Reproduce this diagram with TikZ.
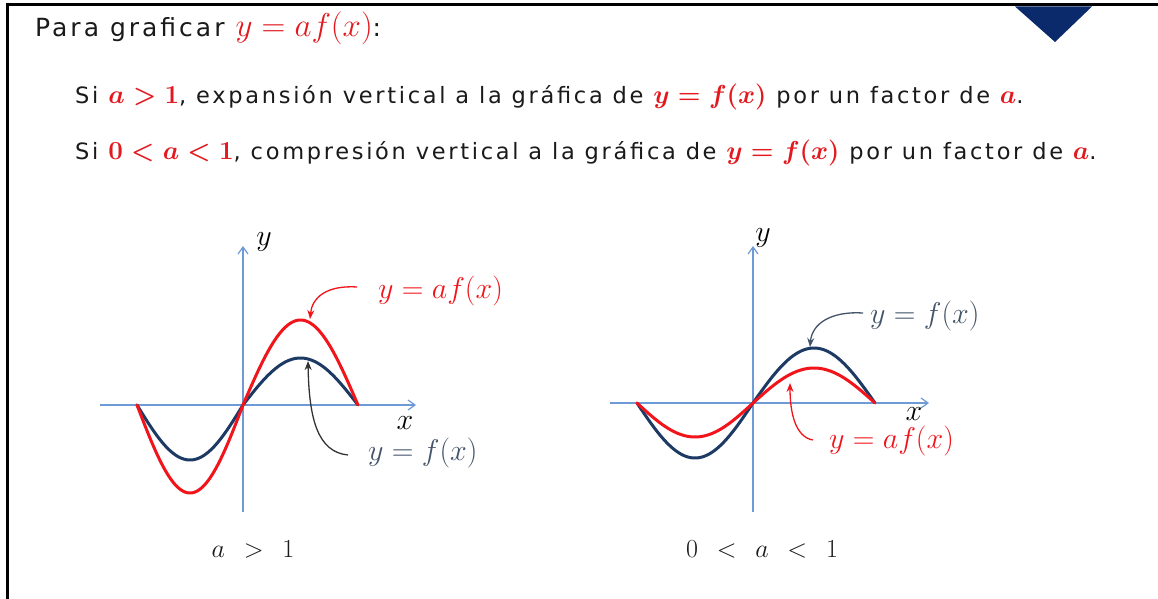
\RequirePackage{fix-cm}
\documentclass[tikz,border=0pt]{standalone}
\usepackage[no-math]{fontspec}
\setmainfont[LetterSpace=12]{DejaVu Sans}
\usetikzlibrary{arrows.meta}
\definecolor{myred}{HTML}{E3191F}
\definecolor{curvered}{HTML}{F2141B}
\definecolor{navy}{HTML}{1C3A63}
\definecolor{slate}{HTML}{44546A}
\definecolor{axisblue}{HTML}{6E9AD6}
\definecolor{trinavy}{HTML}{0B2A6B}
\definecolor{darkarrow}{HTML}{333333}
\definecolor{textgray}{HTML}{1A1A1A}
\newcommand\redm[1]{{\fontsize{26}{26}\selectfont\boldmath\color{myred}$#1$}}
\tikzset{
  axisline/.style={draw=axisblue, line width=1.3pt, -{Straight Barb[length=7pt,width=10pt,line width=1.2pt]}},
  redcurve/.style={draw=curvered, line width=3pt, line join=round, line cap=round},
  bluecurve/.style={draw=navy, line width=3pt, line join=round, line cap=round},
  redarrow/.style={draw=curvered, line width=1.3pt, -{Stealth[length=9pt,width=7pt]}},
  navyarrow/.style={draw=slate, line width=1.3pt, -{Stealth[length=9pt,width=7pt]}},
  blackarrow/.style={draw=darkarrow, line width=1.3pt, -{Stealth[length=9pt,width=7pt]}},
  lbl/.style={inner sep=0pt, font=\fontsize{30}{32}\selectfont},
  cond/.style={inner sep=0pt, font=\fontsize{26}{30}\selectfont, text=textgray},
  txt/.style={inner sep=0pt, anchor=base west, text=textgray},
}
\begin{document}
\begin{tikzpicture}[x=1pt,y=-1pt]
\useasboundingbox (0,0) rectangle (1158,599);
\fill[white] (0,0) rectangle (1158,599);
% frame
\draw[line width=3pt, black] (7,599) -- (7,5) -- (1158,5);
% triangle
\fill[trinavy] (1015,6.5) -- (1092,6.5) -- (1055,42) -- cycle;
% texts
\node[txt, font=\fontsize{25}{28}\selectfont] (title) at (35,37) {Para graficar {\fontsize{33}{33}\selectfont\color{myred}$y=af(x)$}:};
\node[txt, font=\fontsize{22.5}{25}\selectfont] (l2) at (75,103) {Si \redm{a>1}, expansión vertical a la gráfica de \redm{y=f(x)} por un factor de \redm{a}.};
\node[txt, font=\fontsize{22.5}{25}\selectfont] (l3) at (75,159) {Si \redm{0<a<1}, compresión vertical a la gráfica de \redm{y=f(x)} por un factor de \redm{a}.};

% ---------- left graph ----------
\coordinate (lxs) at (100,405);
\coordinate (lxe) at (416,405);
\coordinate (lys) at (243,512);
\coordinate (lye) at (243,246);
\draw[axisline] (lxs) -- (lxe);
\draw[axisline] (lys) -- (lye);
\node[lbl] (ly) at (264,242) {$y$};
\node[lbl] (lx) at (405,423) {$x$};
\draw[bluecurve] plot[domain=0:1, samples=60] ({137+106*\x},{405+55*sin(180*\x)})
  -- plot[domain=0:1, samples=60] ({243+115*\x},{405-47*sin(180*\x)});
\draw[redcurve] plot[domain=0:1, samples=60] ({137+106*\x},{405+88*sin(180*\x)})
  -- plot[domain=0:1, samples=60] ({243+115*\x},{405-85*sin(180*\x)});
\node[lbl, anchor=west, text=curvered] (laf) at (378,291) {$y=af(x)$};
\node[lbl, anchor=west, text=slate] (lf) at (368,453) {$y=f(x)$};
\coordinate (lra) at (357,287);
\coordinate (lrt) at (310,319);
\draw[redarrow] (lra) .. controls (326,285) and (312,298) .. (lrt);
\coordinate (lba) at (348,455);
\coordinate (lbt) at (308,361);
\draw[blackarrow] (lba) .. controls (318,452) and (309,420) .. (lbt);
\node[cond] (lcond) at (253,549) {$a\;\,>\;\,1$};

% ---------- right graph ----------
\coordinate (rxs) at (610,403);
\coordinate (rxe) at (929,403);
\coordinate (rys) at (753,512);
\coordinate (rye) at (753,246);
\draw[axisline] (rxs) -- (rxe);
\draw[axisline] (rys) -- (rye);
\node[lbl] (ry) at (763,238) {$y$};
\node[lbl] (rx) at (914,414) {$x$};
\draw[bluecurve] plot[domain=0:1, samples=60] ({637+116*\x},{403+55*sin(180*\x)})
  -- plot[domain=0:1, samples=60] ({753+122*\x},{403-55*sin(180*\x)});
\draw[redcurve] plot[domain=0:1, samples=60] ({637+116*\x},{403+34*sin(180*\x)})
  -- plot[domain=0:1, samples=60] ({753+122*\x},{403-35*sin(180*\x)});
\node[lbl, anchor=west, text=slate] (rf) at (870,316) {$y=f(x)$};
\node[lbl, anchor=west, text=curvered] (raf) at (829,441) {$y=af(x)$};
\coordinate (rba) at (863,313);
\coordinate (rbt) at (810,347);
\draw[navyarrow] (rba) .. controls (832,311) and (812,323) .. (rbt);
\coordinate (rra) at (813,440);
\coordinate (rrt) at (790,383);
\draw[redarrow] (rra) .. controls (795,437) and (790,412) .. (rrt);
\node[cond] (rcond) at (762,549) {$0\;\,<\;\,a\;\,<\;\,1$};
\end{tikzpicture}
\end{document}
